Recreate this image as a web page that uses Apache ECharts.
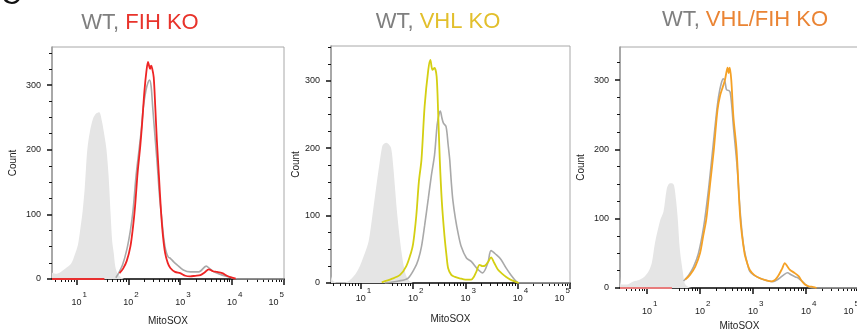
<!DOCTYPE html>
<html>
<head>
<meta charset="utf-8">
<script src="https://cdn.jsdelivr.net/npm/echarts@6/dist/echarts.min.js"></script>
<style>
  html, body { margin: 0; padding: 0; background: #fff; }
  #chart { width: 857px; height: 336px; }
</style>
</head>
<body>
<div id="chart"></div>
<script>
const FONT = "'Liberation Sans', Arial, Helvetica, sans-serif";

// tick values
const decadeTicks = [10, 100, 1000, 10000, 100000];
const logMinorTicks = [3, 4, 5, 6, 7, 8, 9, 40, 50, 60, 70, 80, 90,
  200, 300, 400, 500, 600, 700, 800, 900,
  2000, 3000, 4000, 5000, 6000, 7000, 8000, 9000,
  20000, 30000, 40000, 50000, 60000, 70000, 80000, 90000];
const countTicks = [0, 100, 200, 300];
const countMinorTicks = [25, 50, 75, 125, 150, 175, 225, 250, 275, 325, 350];

// curves: [log10(MitoSOX), count]
const fihUnstained = [[0.53, 10], [0.6, 8], [0.7, 11], [0.8, 17], [0.9, 24], [0.97, 38], [1.03, 53], [1.08, 80],
  [1.12, 105], [1.16, 140], [1.21, 200], [1.26, 228], [1.32, 248], [1.38, 256], [1.44, 258], [1.49, 245],
  [1.54, 222], [1.58, 200], [1.62, 160], [1.66, 100], [1.69, 58], [1.72, 40], [1.75, 19], [1.79, 9],
  [1.85, 3], [1.92, 0]];
const fihBaseline = [[0.53, 0], [1.54, 0]];
const fihWT = [[1.76, 2], [1.82, 10], [1.89, 22], [1.97, 45], [2.04, 75], [2.09, 105], [2.15, 160], [2.2, 195],
  [2.25, 230], [2.29, 266], [2.34, 292], [2.38, 304], [2.41, 308], [2.44, 298], [2.47, 266], [2.52, 215],
  [2.56, 175], [2.6, 130], [2.64, 97], [2.68, 65], [2.72, 45], [2.77, 34], [2.81, 32], [2.87, 27], [2.94, 22],
  [3.06, 14], [3.2, 11], [3.36, 11], [3.5, 20], [3.57, 16], [3.65, 11], [3.81, 6], [3.97, 2.6], [4.05, 0.5],
  [4.2, 0], [5, 0]];
const fihKO = [[1.83, 9], [1.9, 16], [1.97, 28], [2.04, 50], [2.09, 80], [2.13, 112], [2.18, 165], [2.23, 205],
  [2.27, 245], [2.31, 290], [2.35, 322], [2.38, 336], [2.4, 330], [2.42, 325], [2.44, 330], [2.46, 326],
  [2.49, 312], [2.52, 266], [2.55, 215], [2.59, 160], [2.63, 105], [2.67, 65], [2.71, 40], [2.76, 25],
  [2.81, 17], [2.9, 11], [3.0, 9], [3.1, 5], [3.19, 4], [3.29, 5], [3.39, 6], [3.47, 10], [3.55, 15],
  [3.63, 12], [3.71, 11], [3.81, 9], [3.91, 4.6], [4.0, 2], [4.07, 0.5]];

const vhlUnstained = [[0.43, 10], [0.47, 3], [0.55, 1], [0.7, 1], [0.83, 7], [0.95, 20], [1.08, 45], [1.15, 62],
  [1.22, 99], [1.29, 140], [1.35, 173], [1.41, 203], [1.45, 207], [1.49, 208], [1.53, 206], [1.58, 200],
  [1.62, 173], [1.7, 99], [1.78, 45], [1.85, 15], [1.92, 4], [2.0, 0]];
const vhlWT = [[1.46, 0], [1.72, 3], [1.9, 7], [2.03, 22], [2.1, 35], [2.16, 54], [2.22, 85], [2.29, 125],
  [2.35, 160], [2.41, 190], [2.46, 235], [2.5, 252], [2.52, 255], [2.55, 245], [2.58, 237], [2.63, 232],
  [2.67, 205], [2.7, 183], [2.73, 150], [2.76, 123], [2.81, 95], [2.86, 74], [2.92, 54], [3.02, 37],
  [3.11, 32], [3.24, 20], [3.33, 15], [3.43, 30], [3.49, 48], [3.59, 42], [3.68, 35], [3.78, 22], [3.87, 12],
  [3.97, 2.5], [4.03, 0], [5, 0]];
const vhlKO = [[1.4, 1], [1.59, 6], [1.75, 12], [1.87, 25], [1.96, 45], [2.0, 58], [2.06, 99], [2.11, 150],
  [2.16, 183], [2.22, 262], [2.29, 316], [2.33, 331], [2.37, 316], [2.41, 319], [2.45, 306], [2.48, 250],
  [2.51, 183], [2.55, 120], [2.6, 70], [2.64, 40], [2.67, 22], [2.73, 12], [2.8, 9], [2.89, 7], [3.0, 5],
  [3.11, 5], [3.16, 9], [3.21, 17], [3.27, 27], [3.33, 25], [3.38, 26], [3.44, 32], [3.49, 38], [3.55, 30],
  [3.62, 20], [3.7, 14], [3.78, 9], [3.86, 5], [3.94, 2.5], [4.02, 0]];

const dkoUnstained = [[0.49, 17], [0.52, 5], [0.62, 5], [0.74, 9.5], [0.86, 12], [0.96, 17], [1.03, 24],
  [1.09, 36], [1.15, 65], [1.25, 98], [1.31, 110], [1.37, 142], [1.41, 150], [1.47, 151], [1.51, 148],
  [1.55, 125], [1.58, 100], [1.62, 55], [1.68, 21], [1.71, 7], [1.78, 1.4], [1.85, 0]];
const dkoBaseline = [[0.49, 0], [1.47, 0]];
const dkoWT = [[1.69, 10], [1.79, 19], [1.88, 31], [1.97, 50], [2.07, 89], [2.16, 142], [2.24, 200], [2.3, 245],
  [2.35, 276], [2.4, 295], [2.44, 302], [2.47, 298], [2.5, 286], [2.54, 285], [2.57, 282], [2.6, 262],
  [2.63, 233], [2.7, 175], [2.76, 108], [2.82, 62], [2.89, 36], [2.94, 24], [3.01, 19], [3.13, 14],
  [3.25, 11], [3.37, 9], [3.48, 13], [3.58, 19], [3.65, 22], [3.72, 19], [3.8, 16], [3.86, 14], [3.95, 8],
  [4.02, 3], [4.1, 0.5], [4.2, 0], [5, 0]];
const dkoKO = [[1.72, 12], [1.81, 19], [1.91, 31], [2.0, 50], [2.06, 75], [2.12, 100], [2.19, 150], [2.26, 199],
  [2.33, 257], [2.38, 278], [2.43, 290], [2.47, 300], [2.5, 312], [2.52, 318], [2.54, 310], [2.56, 318],
  [2.59, 300], [2.63, 247], [2.69, 199], [2.76, 100], [2.84, 50], [2.89, 36], [2.94, 26], [3.02, 19],
  [3.13, 14], [3.25, 11], [3.35, 9.6], [3.42, 12], [3.48, 18], [3.55, 28], [3.6, 36], [3.65, 31], [3.7, 26],
  [3.78, 22], [3.86, 17], [3.92, 10], [3.98, 5], [4.05, 2.5], [4.14, 1.4], [4.2, 0]];

const panels = [
  { title: 'FIH KO', titleColor: '#e8332b', lineColor: '#ee2424', baseColor: '#e83030',
    grid: { left: 52, top: 47, width: 232, height: 232 }, xMinExp: 0.53, yMax: 359,
    labelMargin: 12, xNameGap: 37, yNameGap: 34, titleX: 140, titleY: 23,
    fill: fihUnstained, wt: fihWT, ko: fihKO, base: fihBaseline },
  { title: 'VHL KO', titleColor: '#e2bf2c', lineColor: '#d4cf12', baseColor: null,
    grid: { left: 331, top: 46, width: 239, height: 237 }, xMinExp: 0.43, yMax: 351.5,
    labelMargin: 4, xNameGap: 31, yNameGap: 25, titleX: 438, titleY: 22,
    fill: vhlUnstained, wt: vhlWT, ko: vhlKO, base: null },
  { title: 'VHL/FIH KO', titleColor: '#ea8434', lineColor: '#f5a125', baseColor: '#e87c7c',
    grid: { left: 620, top: 47, width: 239, height: 241 }, xMinExp: 0.49, yMax: 347.7,
    labelMargin: 12, xNameGap: 33, yNameGap: 34, titleX: 745, titleY: 20,
    fill: dkoUnstained, wt: dkoWT, ko: dkoKO, base: dkoBaseline }
];

const toPoints = (arr) => arr.map(([e, c]) => [Math.pow(10, e), c]);

const labelRich = {
  b: { fontSize: 9, fontFamily: FONT, color: '#222', lineHeight: 16, verticalAlign: 'bottom' },
  e: { fontSize: 8, fontFamily: FONT, color: '#222', lineHeight: 16, verticalAlign: 'top', padding: [0, 0, 0, 1] },
  sb: { fontSize: 9, fontFamily: FONT, color: 'rgba(0,0,0,0)', lineHeight: 16, verticalAlign: 'bottom' },
  se: { fontSize: 8, fontFamily: FONT, color: 'rgba(0,0,0,0)', lineHeight: 16, verticalAlign: 'top', padding: [0, 1, 0, 0] }
};

const decadeLabel = (value) => {
  const exp = Math.round(Math.log10(value));
  if (exp === 5) return `{b|10}{e|${exp}}{sb|10}{se|${exp}}`;
  return `{se|${exp}}{b|10}{e|${exp}}`;
};

const grids = [], xAxes = [], yAxes = [], series = [], graphics = [];

panels.forEach((p, i) => {
  const xMin = Math.pow(10, p.xMinExp);
  grids.push({ ...p.grid, show: true, borderColor: '#a8a8a8', borderWidth: 1, outerBoundsMode: 'none' });

  xAxes.push({
    type: 'log', logBase: 10, gridIndex: i, min: xMin, max: 100000, position: 'bottom',
    name: 'MitoSOX', nameLocation: 'middle', nameGap: p.xNameGap,
    nameTextStyle: { fontSize: 10, fontFamily: FONT, color: '#222' },
    axisLine: { show: true, onZero: false, lineStyle: { color: '#111', width: 1.5 } },
    axisTick: { show: true, customValues: decadeTicks, length: 6, lineStyle: { color: '#111', width: 1.5 } },
    axisLabel: { show: true, customValues: decadeTicks, margin: p.labelMargin, formatter: decadeLabel, rich: labelRich },
    splitLine: { show: false }, minorTick: { show: false }
  });
  yAxes.push({
    type: 'value', gridIndex: i, min: 0, max: p.yMax, position: 'left',
    name: 'Count', nameLocation: 'middle', nameGap: p.yNameGap,
    nameTextStyle: { fontSize: 10, fontFamily: FONT, color: '#222' },
    axisLine: { show: true, onZero: false, lineStyle: { color: '#9a9a9a', width: 1.5 } },
    axisTick: { show: true, customValues: countTicks, length: 5, lineStyle: { color: '#111', width: 1.5 } },
    axisLabel: { show: true, customValues: countTicks, margin: 11, fontSize: 9, fontFamily: FONT, color: '#222' },
    splitLine: { show: false }
  });

  series.push({
    type: 'line', xAxisIndex: i, yAxisIndex: i, data: toPoints(p.fill), smooth: 0.3,
    showSymbol: false, silent: true, z: 1,
    lineStyle: { width: 0 }, itemStyle: { color: '#e5e5e5' },
    areaStyle: { color: '#e5e5e5', opacity: 1 }
  });
  series.push({
    type: 'line', xAxisIndex: i, yAxisIndex: i, data: toPoints(p.wt), smooth: 0.3,
    showSymbol: false, silent: true, z: 2,
    lineStyle: { width: 1.6, color: '#a9a9a9' }, itemStyle: { color: '#a9a9a9' }
  });
  series.push({
    type: 'line', xAxisIndex: i, yAxisIndex: i, data: toPoints(p.ko), smooth: 0.3,
    showSymbol: false, silent: true, z: 3,
    lineStyle: { width: 1.8, color: p.lineColor }, itemStyle: { color: p.lineColor }
  });
  if (p.base) {
    series.push({
      type: 'line', xAxisIndex: i, yAxisIndex: i, data: toPoints(p.base),
      showSymbol: false, silent: true, z: 4,
      lineStyle: { width: 1.8, color: p.baseColor }, itemStyle: { color: p.baseColor }
    });
  }

  graphics.push({
    type: 'text', x: p.titleX, y: p.titleY, silent: true,
    style: {
      text: `{g|WT, }{k|${p.title}}`, align: 'center', verticalAlign: 'middle',
      rich: {
        g: { fontSize: 22, fontFamily: FONT, fill: '#7f7f7f' },
        k: { fontSize: 22, fontFamily: FONT, fill: p.titleColor }
      }
    }
  });
});

// overlay axes that carry the minor ticks
panels.forEach((p, i) => {
  const xMin = Math.pow(10, p.xMinExp);
  xAxes.push({
    type: 'log', logBase: 10, gridIndex: i, min: xMin, max: 100000, position: 'bottom', offset: 0,
    axisLine: { show: false, onZero: false }, axisLabel: { show: false }, splitLine: { show: false },
    axisTick: { show: true, inside: false, customValues: logMinorTicks.filter((v) => v > xMin), length: 3, lineStyle: { color: '#111', width: 1 } }
  });
  yAxes.push({
    type: 'value', gridIndex: i, min: 0, max: p.yMax, position: 'left', offset: 0,
    axisLine: { show: false, onZero: false }, axisLabel: { show: false }, splitLine: { show: false },
    axisTick: { show: true, inside: false, customValues: countMinorTicks.filter((v) => v < p.yMax), length: 3, lineStyle: { color: '#111', width: 1 } }
  });
});

graphics.push({
  type: 'text', x: 1, y: 10, silent: true,
  style: { text: 'C', fontSize: 28, fontFamily: FONT, fill: '#111', verticalAlign: 'bottom' }
});

const chart = echarts.init(document.getElementById('chart'), null, { renderer: 'canvas' });
chart.setOption({
  animation: false,
  backgroundColor: '#fff',
  grid: grids,
  xAxis: xAxes,
  yAxis: yAxes,
  series: series,
  graphic: graphics
});
</script>
</body>
</html>
